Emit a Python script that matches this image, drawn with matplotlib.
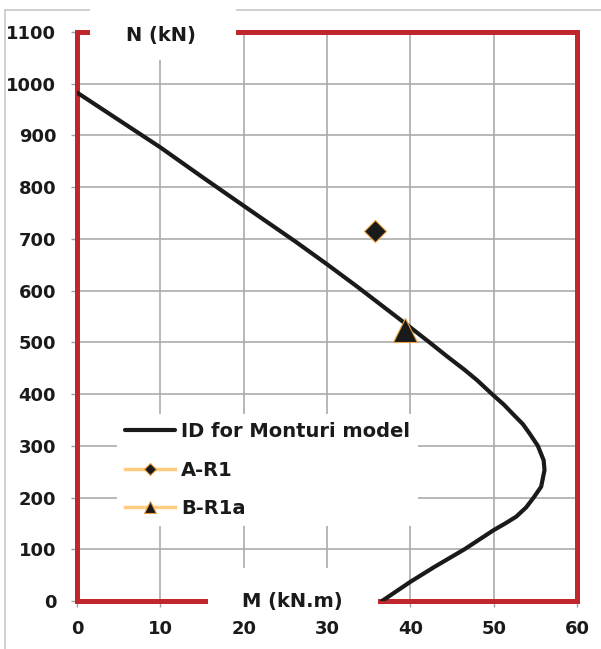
import matplotlib.pyplot as plt
from matplotlib.patches import Rectangle
from matplotlib.lines import Line2D

# interaction diagram (M in kN.m, N in kN)
curve_m = [0, 5, 10, 15, 20, 26.2, 30, 33.6, 40, 42.3, 44.4, 46.5, 48.0, 49.8,
           51.2, 52.4, 53.5, 54.3, 55.3, 56.0, 56.1, 55.7, 54.8, 53.9, 52.7,
           51.4, 50.0, 46.5, 42.9, 40.0, 36.6]
curve_n = [983, 930, 877, 820, 764, 695, 651, 608, 529, 500, 473, 447, 427, 400,
           380, 360, 342, 324, 300, 272, 253, 221, 200, 181, 163,
           150, 137, 100, 66, 37, 0]

# test specimens
a_r1_m = [35.7]
a_r1_n = [716]
b_r1a_m = [39.3]
b_r1a_n = [524]

x_ticks = [0, 10, 20, 30, 40, 50, 60]
y_ticks = [0, 100, 200, 300, 400, 500, 600, 700, 800, 900, 1000, 1100]

W, H = 601, 649
red = '#C0272D'
orange = '#FFCC80'
txt = '#1a1a1a'

fig = plt.figure(figsize=(W / 100, H / 100), dpi=100)
ax = fig.add_axes([77 / W, (H - 601) / H, 500 / W, 569 / H])

ax.plot(curve_m, curve_n, color='#1a1a1a', lw=3.0, zorder=4,
        label='ID for Monturi model', solid_capstyle='round', solid_joinstyle='round')
ax.plot(a_r1_m, a_r1_n, color=orange, lw=2.5, marker='D', ms=11.5,
        mfc='#1a1a1a', mec='#E8A040', mew=0.8, zorder=5, label='A-R1')
ax.plot(b_r1a_m, b_r1a_n, color=orange, lw=2.5, marker='^', ms=17,
        mfc='#1a1a1a', mec='#E8A040', mew=0.8, zorder=5, label='B-R1a')

ax.set_xlim(0, 60)
ax.set_ylim(0, 1100)
ax.set_xticks(x_ticks)
ax.set_yticks(y_ticks)
ax.grid(True, color='#ABABAB', lw=1.2)
ax.set_axisbelow(True)

for s in ax.spines.values():
    s.set_color(red)
    s.set_linewidth(3.6)
    s.set_zorder(3)

ax.tick_params(direction='out', length=4, width=1, color='#A0A0A0',
               labelsize=13, labelcolor=txt)
ax.tick_params(axis='y', pad=11)
ax.tick_params(axis='x', pad=10)
for lab in ax.get_xticklabels() + ax.get_yticklabels():
    lab.set_fontweight('bold')

leg = ax.legend(loc='upper left', bbox_to_anchor=(0.06, 0.345), fontsize=14,
                frameon=True, facecolor='white', edgecolor='none', framealpha=1,
                fancybox=False, handlelength=2.6, handletextpad=0.3,
                labelspacing=1.0, markerscale=0.5, borderpad=0.4)
for t in leg.get_texts():
    t.set_fontweight('bold')
    t.set_color(txt)

# outer chart-area frame
fig.add_artist(Line2D([5 / W, 5 / W], [0, 1 - 10 / H], transform=fig.transFigure,
                      color='#C8C8C8', lw=1.2))
fig.add_artist(Line2D([5 / W, 1], [1 - 10 / H, 1 - 10 / H], transform=fig.transFigure,
                      color='#C8C8C8', lw=1.2))

# white label boxes that cut the frame
def px_box(x0, y0, x1, y1):
    fig.add_artist(Rectangle((x0 / W, 1 - y1 / H), (x1 - x0) / W, (y1 - y0) / H,
                             transform=fig.transFigure, facecolor='white',
                             edgecolor='none', zorder=5))

px_box(90, 0, 236, 60)
px_box(208, 568, 378, 614)

fig.text(161 / W, 1 - 35 / H, 'N (kN)', ha='center', va='center', fontsize=14,
         fontweight='bold', color=txt, zorder=6)
fig.text(292 / W, 1 - 601 / H, 'M (kN.m)', ha='center', va='center', fontsize=14,
         fontweight='bold', color=txt, zorder=6)

fig.savefig('out.png', dpi=100)
